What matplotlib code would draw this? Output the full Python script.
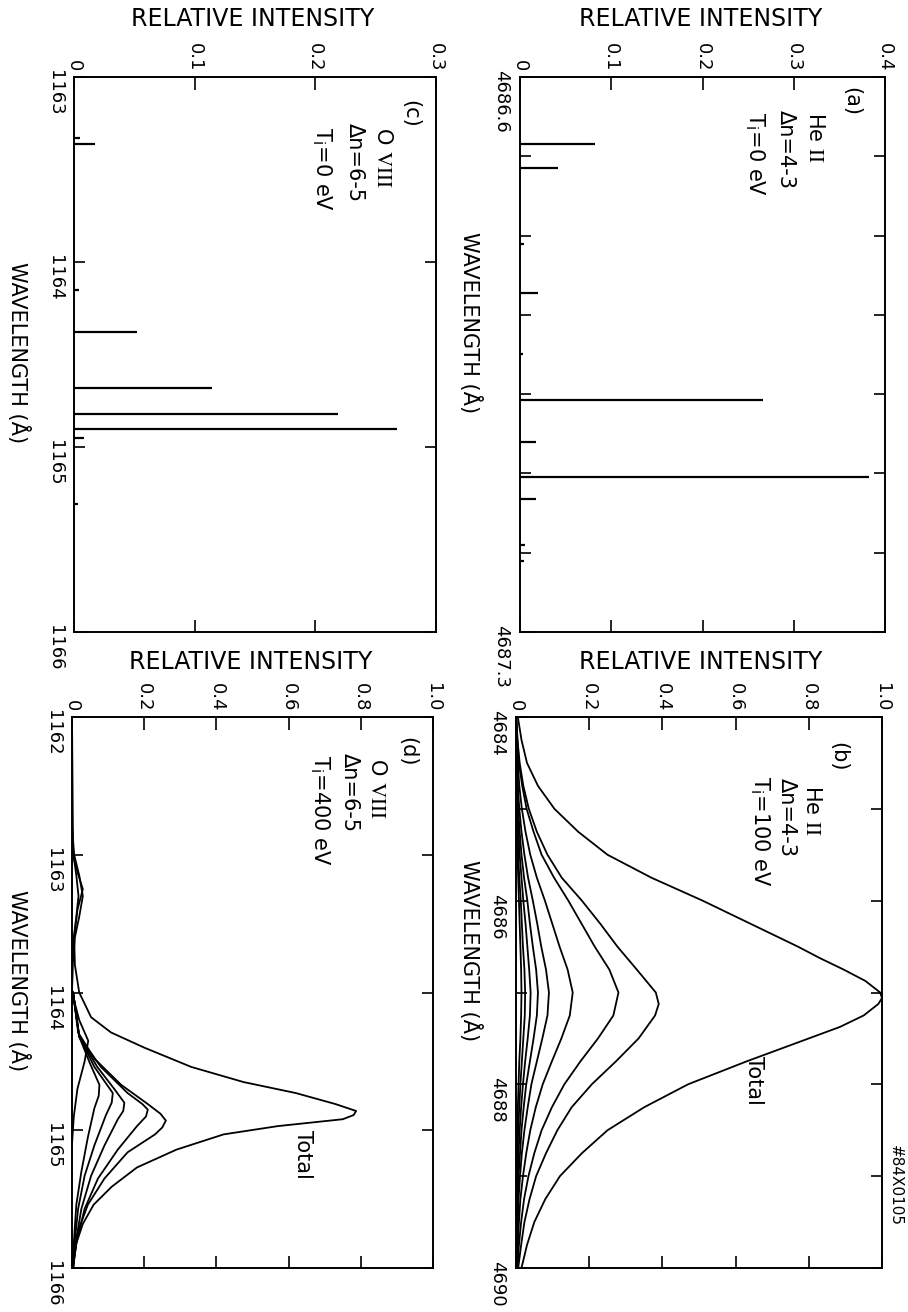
import matplotlib
matplotlib.use("Agg")
import matplotlib.pyplot as plt

# ---------------------------------------------------------------- data
# (a) He II  n=4-3, Ti = 0 eV : individual fine-structure components
he_lines_wl = [4686.684, 4686.715, 4686.81, 4686.873, 4686.95, 4687.008,
               4687.06, 4687.105, 4687.132, 4687.19, 4687.21]
he_lines_int = [0.082, 0.042, 0.004, 0.020, 0.003, 0.266,
                0.017, 0.383, 0.017, 0.005, 0.004]

# (c) O VIII  n=6-5, Ti = 0 eV
o_lines_wl = [1163.33, 1163.36, 1164.15, 1164.38, 1164.68, 1164.82,
              1164.90, 1164.95, 1165.31]
o_lines_int = [0.005, 0.017, 0.004, 0.052, 0.114, 0.219, 0.268, 0.008, 0.003]

# (b) He II, Ti = 100 eV : Doppler-broadened profiles
he_total_wl = [4684.0, 4684.25, 4684.5, 4684.75, 4685.0, 4685.25, 4685.5,
               4685.75, 4686.0, 4686.25, 4686.5, 4686.625, 4686.75, 4686.875,
               4687.0, 4687.06, 4687.125, 4687.25, 4687.375, 4687.5, 4687.75,
               4688.0, 4688.25, 4688.5, 4688.75, 4689.0, 4689.25, 4689.5,
               4689.75, 4690.0]
he_total = [0.005, 0.015, 0.03, 0.06, 0.105, 0.17, 0.25, 0.37, 0.51, 0.64,
            0.77, 0.83, 0.895, 0.955, 0.995, 1.0, 0.99, 0.95, 0.885, 0.80,
            0.63, 0.47, 0.35, 0.25, 0.18, 0.12, 0.08, 0.05, 0.03, 0.015]

he_comp_1_wl = [4684.0, 4684.25, 4684.5, 4684.75, 4685.0, 4685.25, 4685.5,
                4685.75, 4686.0, 4686.25, 4686.5, 4686.75, 4687.0, 4687.125,
                4687.25, 4687.5, 4687.75, 4688.0, 4688.25, 4688.5, 4688.75,
                4689.0, 4689.25, 4689.5, 4689.75, 4690.0]
he_comp_1 = [0.0, 0.004, 0.01, 0.02, 0.035, 0.057, 0.086, 0.125, 0.18, 0.23,
             0.277, 0.33, 0.382, 0.39, 0.38, 0.335, 0.273, 0.207, 0.152,
             0.113, 0.082, 0.055, 0.037, 0.023, 0.014, 0.006]

he_comp_wl = [4684.0, 4684.25, 4684.5, 4684.75, 4685.0, 4685.25, 4685.5,
              4685.75, 4686.0, 4686.25, 4686.5, 4686.75, 4687.0, 4687.25,
              4687.5, 4687.75, 4688.0, 4688.25, 4688.5, 4688.75, 4689.0,
              4689.25, 4689.5, 4689.75, 4690.0]
he_comp_2 = [0.001, 0.004, 0.008, 0.017, 0.029, 0.048, 0.07, 0.104, 0.143,
             0.179, 0.215, 0.255, 0.28, 0.266, 0.224, 0.176, 0.132, 0.098,
             0.07, 0.05, 0.034, 0.022, 0.014, 0.008, 0.004]
he_comp_3 = [0.001, 0.002, 0.005, 0.009, 0.016, 0.026, 0.039, 0.057, 0.079,
             0.099, 0.119, 0.141, 0.155, 0.147, 0.124, 0.098, 0.073, 0.054,
             0.039, 0.028, 0.019, 0.012, 0.008, 0.005, 0.002]
he_comp_4 = [0.0, 0.001, 0.003, 0.005, 0.009, 0.015, 0.023, 0.033, 0.046,
             0.058, 0.069, 0.082, 0.09, 0.086, 0.072, 0.057, 0.042, 0.032,
             0.023, 0.016, 0.011, 0.007, 0.005, 0.003, 0.001]
he_comp_5 = [0.0, 0.001, 0.002, 0.004, 0.006, 0.01, 0.015, 0.022, 0.031,
             0.038, 0.046, 0.055, 0.06, 0.057, 0.048, 0.038, 0.028, 0.021,
             0.015, 0.011, 0.007, 0.005, 0.003, 0.002, 0.001]
he_comp_6 = [0.0, 0.0, 0.001, 0.002, 0.004, 0.007, 0.01, 0.015, 0.02, 0.026,
             0.031, 0.036, 0.04, 0.038, 0.032, 0.025, 0.019, 0.014, 0.01,
             0.007, 0.005, 0.003, 0.002, 0.001, 0.0]
he_comp_7 = [0.0, 0.0, 0.001, 0.001, 0.003, 0.004, 0.006, 0.009, 0.013, 0.016,
             0.019, 0.023, 0.025, 0.024, 0.02, 0.016, 0.012, 0.009, 0.006,
             0.004, 0.003, 0.002, 0.001, 0.001, 0.0]
he_comp_8 = [0.0, 0.0, 0.0, 0.001, 0.002, 0.003, 0.004, 0.006, 0.008, 0.01,
             0.012, 0.014, 0.015, 0.014, 0.012, 0.009, 0.007, 0.005, 0.004,
             0.003, 0.002, 0.001, 0.001, 0.0, 0.0]

# (d) O VIII, Ti = 400 eV
o_total_wl = [1162.0, 1163.0, 1163.1, 1163.25, 1163.4, 1163.6, 1163.8, 1164.0,
              1164.18, 1164.29, 1164.4, 1164.54, 1164.65, 1164.73, 1164.81,
              1164.86, 1164.89, 1164.92, 1164.97, 1165.03, 1165.14, 1165.27,
              1165.41, 1165.54, 1165.68, 1165.82, 1165.95, 1166.0]
o_total = [0.0, 0.003, 0.012, 0.03, 0.015, 0.006, 0.008, 0.02, 0.053, 0.108,
           0.2, 0.33, 0.475, 0.62, 0.73, 0.787, 0.78, 0.75, 0.57, 0.42, 0.29,
           0.18, 0.11, 0.06, 0.03, 0.012, 0.005, 0.003]

o_comp_1_wl = [1164.0, 1164.29, 1164.48, 1164.67, 1164.81, 1164.88, 1164.93,
               1164.98, 1165.03, 1165.16, 1165.35, 1165.54, 1165.73, 1165.9,
               1166.0]
o_comp_1 = [0.003, 0.017, 0.062, 0.136, 0.21, 0.245, 0.26, 0.25, 0.23, 0.154,
            0.09, 0.044, 0.017, 0.007, 0.003]
o_comp_2_wl = [1164.0, 1164.32, 1164.54, 1164.73, 1164.81, 1164.85, 1164.9,
               1164.97, 1165.14, 1165.35, 1165.57, 1165.82, 1166.0]
o_comp_2 = [0.003, 0.02, 0.08, 0.154, 0.195, 0.21, 0.205, 0.18, 0.127, 0.072,
            0.035, 0.012, 0.003]
o_comp_3_wl = [1164.0, 1164.32, 1164.54, 1164.70, 1164.80, 1164.86, 1164.92,
               1165.11, 1165.33, 1165.57, 1165.82, 1166.0]
o_comp_3 = [0.003, 0.02, 0.07, 0.117, 0.145, 0.142, 0.127, 0.09, 0.053, 0.026,
            0.01, 0.003]
o_comp_4_wl = [1164.0, 1164.32, 1164.54, 1164.73, 1164.80, 1164.89, 1165.11,
               1165.33, 1165.57, 1165.82, 1166.0]
o_comp_4 = [0.003, 0.02, 0.062, 0.113, 0.11, 0.094, 0.062, 0.035, 0.017,
            0.007, 0.002]
o_comp_5_wl = [1164.0, 1164.32, 1164.51, 1164.67, 1164.75, 1164.84, 1165.05,
               1165.3, 1165.54, 1165.82, 1166.0]
o_comp_5 = [0.003, 0.02, 0.049, 0.076, 0.074, 0.062, 0.044, 0.026, 0.012,
            0.005, 0.002]
o_weak_wl = [1162.8, 1163.0, 1163.15, 1163.3, 1163.45, 1163.6, 1163.8, 1164.0]
o_weak_1 = [0.0, 0.006, 0.02, 0.03, 0.02, 0.008, 0.002, 0.0]
o_weak_2 = [0.0, 0.004, 0.012, 0.018, 0.012, 0.005, 0.001, 0.0]
o_knot_wl = [1164.0, 1164.2, 1164.35, 1164.5, 1164.7, 1164.9, 1165.1]
o_knot = [0.0, 0.02, 0.045, 0.035, 0.015, 0.005, 0.0]

# axis ticks and labels
he_a_xticks = [0, 0.1, 0.2, 0.3, 0.4]
he_a_xlabels = ["0", "0.1", "0.2", "0.3", "0.4"]
he_a_wticks = [4686.6, 4686.7, 4686.8, 4686.9, 4687.0, 4687.1, 4687.2, 4687.3]
he_a_wlabels = ["4686.6", "", "", "", "", "", "", "4687.3"]

o_c_xticks = [0, 0.1, 0.2, 0.3]
o_c_xlabels = ["0", "0.1", "0.2", "0.3"]
o_c_wticks = [1163, 1164, 1165, 1166]
o_c_wlabels = ["1163", "1164", "1165", "1166"]

wide_xticks = [0, 0.2, 0.4, 0.6, 0.8, 1.0]
wide_xlabels = ["0", "0.2", "0.4", "0.6", "0.8", "1.0"]
he_b_wticks = [4684, 4685, 4686, 4687, 4688, 4689, 4690]
he_b_wlabels = ["4684", "", "4686", "", "4688", "", "4690"]
o_d_wticks = [1162, 1163, 1164, 1165, 1166]
o_d_wlabels = ["1162", "1163", "1164", "1165", "1166"]

# ---------------------------------------------------------------- figure
W, H = 908, 1312
LABEL_FONT = ["Liberation Sans Narrow", "DejaVu Sans"]
TICK_FONT = "DejaVu Sans"
plt.rcParams["font.family"] = LABEL_FONT

fig = plt.figure(figsize=(W / 100, H / 100), dpi=100)


def box(x0, y0, x1, y1):
    return [x0 / W, 1 - y1 / H, (x1 - x0) / W, (y1 - y0) / H]


def ftext(x, y, s, size=15, **kw):
    kw.setdefault("rotation", -90)
    kw.setdefault("ha", "center")
    kw.setdefault("va", "top")
    fig.text(x / W, 1 - y / H, s, fontsize=size, family=LABEL_FONT, **kw)


def style(ax, xmax, xticks, xlabels, w0, w1, wticks, wlabels):
    ax.set_xlim(0, xmax)
    ax.set_ylim(w1, w0)
    ax.set_xticks(xticks)
    ax.set_xticklabels(xlabels)
    ax.set_yticks(wticks)
    ax.set_yticklabels(wlabels)
    ax.tick_params(axis="x", direction="in", top=True, bottom=True,
                   labeltop=True, labelbottom=False, length=9, width=1.2,
                   pad=4, labelsize=13, labelrotation=-90,
                   labelfontfamily=TICK_FONT)
    ax.tick_params(axis="y", direction="in", left=True, right=True,
                   labelleft=True, length=8, width=1.2, pad=7, labelsize=13,
                   labelrotation=-90, labelfontfamily=TICK_FONT)
    for sp in ax.spines.values():
        sp.set_linewidth(1.4)


ax_c = fig.add_axes(box(74, 77, 436, 632))
ax_a = fig.add_axes(box(520, 77, 885, 632))
ax_d = fig.add_axes(box(72, 717, 433, 1268))
ax_b = fig.add_axes(box(516, 717, 882, 1268))

style(ax_a, 0.4, he_a_xticks, he_a_xlabels, 4686.6, 4687.3,
      he_a_wticks, he_a_wlabels)
style(ax_c, 0.3, o_c_xticks, o_c_xlabels, 1163, 1166, o_c_wticks, o_c_wlabels)
style(ax_b, 1.0, wide_xticks, wide_xlabels, 4684, 4690,
      he_b_wticks, he_b_wlabels)
style(ax_d, 1.0, wide_xticks, wide_xlabels, 1162, 1166,
      o_d_wticks, o_d_wlabels)

# stick spectra
ax_a.hlines(he_lines_wl, 0, he_lines_int, color="black", lw=1.6)
ax_c.hlines(o_lines_wl, 0, o_lines_int, color="black", lw=1.6)

# broadened profiles
line_kw = dict(color="black", lw=1.3, solid_joinstyle="round")
ax_b.plot(he_total, he_total_wl, **line_kw)
ax_b.plot(he_comp_1, he_comp_1_wl, **line_kw)
for comp in (he_comp_2, he_comp_3, he_comp_4, he_comp_5,
             he_comp_6, he_comp_7, he_comp_8):
    ax_b.plot(comp, he_comp_wl, **line_kw)

ax_d.plot(o_total, o_total_wl, **line_kw)
for vals, wl in ((o_comp_1, o_comp_1_wl), (o_comp_2, o_comp_2_wl),
                 (o_comp_3, o_comp_3_wl), (o_comp_4, o_comp_4_wl),
                 (o_comp_5, o_comp_5_wl), (o_weak_1, o_weak_wl),
                 (o_weak_2, o_weak_wl), (o_knot, o_knot_wl)):
    ax_d.plot(vals, wl, **line_kw)

# axis titles
for xc, yc in ((253, 7), (701, 7), (251, 650), (701, 650)):
    fig.text(xc / W, 1 - yc / H, "RELATIVE INTENSITY", fontsize=17,
             family=LABEL_FONT, ha="center", va="top")
ftext(471, 232, "WAVELENGTH (Å)")
ftext(18, 262, "WAVELENGTH (Å)")
ftext(471, 860, "WAVELENGTH (Å)")
ftext(18, 890, "WAVELENGTH (Å)")

# panel annotations (Roman numerals in a serif face)
ftext(851, 87, "(a)")
ftext(815, 112, r"He $\mathrm{II}$", math_fontfamily="stix")
ftext(786, 110, "Δn=4-3")
ftext(755, 112, r"T$_\mathregular{i}$=0 eV")

ftext(410, 100, "(c)")
ftext(383, 127, r"O $\mathrm{VIII}$", math_fontfamily="stix")
ftext(355, 123, "Δn=6-5")
ftext(322, 127, r"T$_\mathregular{i}$=0 eV")

ftext(838, 742, "(b)")
ftext(812, 785, r"He $\mathrm{II}$", math_fontfamily="stix")
ftext(787, 778, "Δn=4-3")
ftext(760, 776, r"T$_\mathregular{i}$=100 eV")

ftext(407, 737, "(d)")
ftext(377, 758, r"O $\mathrm{VIII}$", math_fontfamily="stix")
ftext(350, 753, "Δn=6-5")
ftext(320, 755, r"T$_\mathregular{i}$=400 eV")

ftext(754, 1056, "Total")
ftext(303, 1130, "Total")
ftext(895, 1145, "#84X0105", size=11)

fig.savefig("out.png", dpi=100, facecolor="white")
